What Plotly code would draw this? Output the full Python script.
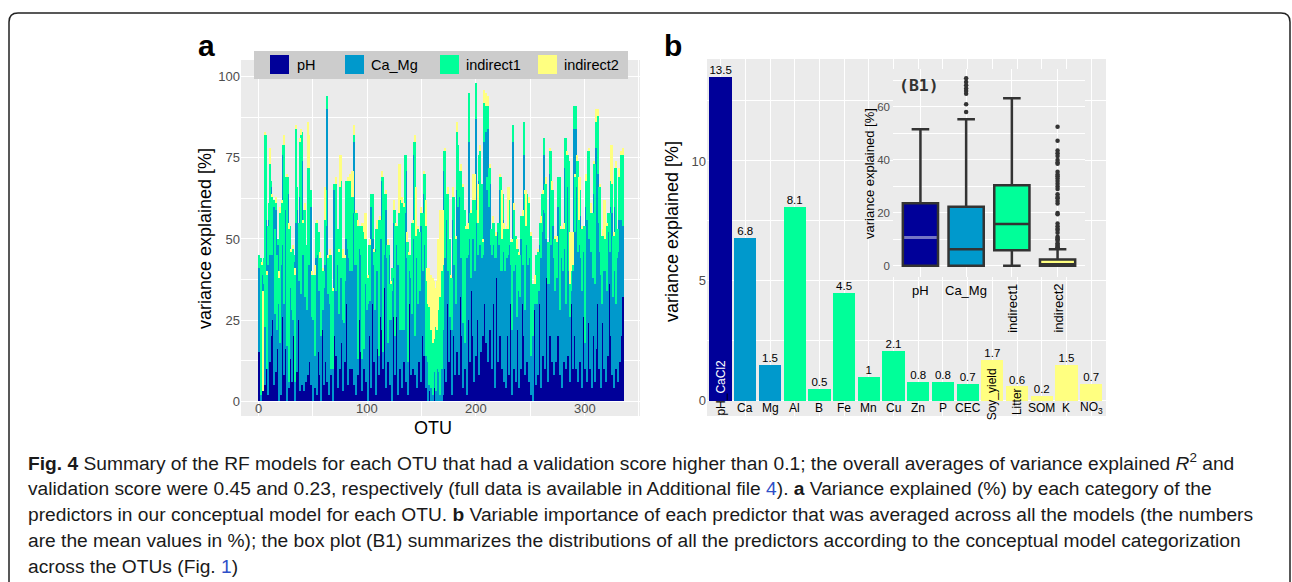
import plotly.graph_objects as go

W, H = 1292, 582


def px(x):
    return x / W


def py(y):
    return 1 - y / H


# ---- panel a: variance explained per OTU, by predictor category ----
ph = [
    15, 0, 25, 3, 8, 5, 26, 10, 2, 34, 12, 20, 25, 5, 27, 9, 16, 38, 0, 13,
    2, 38, 26, 8, 16, 0, 24, 4, 13, 21, 6, 20, 33, 0, 20, 9, 25, 3, 13, 5,
    15, 3, 28, 6, 18, 8, 12, 5, 22, 0, 30, 4, 26, 2, 15, 32, 8, 0, 22, 5,
    12, 26, 6, 30, 2, 18, 8, 25, 0, 20, 14, 32, 4, 24, 10, 18, 26, 3, 20, 12,
    30, 5, 26, 10, 28, 10, 18, 5, 22, 2, 30, 8, 25, 15, 3, 28, 10, 20, 6, 24,
    0, 20, 26, 4, 30, 12, 20, 2, 30, 16, 8, 26, 30, 22, 10, 35, 4, 28, 12, 30,
    5, 22, 0, 26, 30, 8, 26, 2, 20, 10, 30, 4, 20, 12, 28, 6, 24, 2, 30, 8,
    22, 10, 26, 8, 20, 4, 25, 12, 30, 6, 20, 14, 28, 4, 12, 0, 3, 18, 0, 2,
    0, 4, 0, 8, 0, 5, 0, 14, 0, 2, 10, 24, 6, 30, 12, 22, 30, 2, 20, 32,
    8, 26, 15, 30, 8, 32, 20, 4, 30, 10, 36, 2, 25, 30, 12, 34, 20, 6, 30, 14,
    40, 25, 8, 36, 15, 38, 20, 30, 18, 35, 12, 40, 22, 38, 10, 40, 30, 4, 38, 12,
    36, 20, 30, 10, 36, 6, 28, 4, 34, 20, 8, 30, 2, 25, 10, 30, 6, 22, 30, 4,
    26, 10, 30, 20, 8, 28, 12, 32, 6, 24, 2, 20, 0, 28, 5, 26, 8, 30, 38, 4,
    32, 14, 36, 10, 38, 6, 30, 20, 36, 12, 34, 8, 28, 12, 34, 20, 8, 36, 4, 30,
    12, 32, 10, 36, 14, 30, 6, 30, 10, 20, 32, 10, 36, 6, 28, 12, 34, 4, 26, 10,
    30, 6, 24, 38, 10, 26, 4, 32, 20, 6, 16, 30, 10, 26, 4, 24, 30, 10, 28, 6,
    30, 14, 36, 20, 8, 28, 4, 30, 10, 34, 6, 26, 12, 20, 32,
]
ca_mg = [
    26, 2, 14, 0, 28, 18, 30, 0, 40, 22, 33, 46, 20, 55, 0, 50, 6, 10, 30, 5,
    40, 10, 50, 22, 43, 17, 40, 2, 30, 14, 22, 5, 10, 6, 35, 50, 12, 60, 20, 69,
    30, 42, 4, 36, 10, 40, 30, 55, 4, 25, 2, 10, 18, 48, 30, 2, 28, 20, 6, 30,
    30, 28, 84, 3, 35, 12, 2, 6, 10, 45, 20, 10, 40, 3, 30, 20, 12, 22, 4, 25,
    20, 42, 18, 30, 22, 30, 40, 75, 20, 40, 12, 5, 22, 30, 10, 20, 6, 25, 30, 4,
    30, 15, 5, 56, 20, 30, 8, 45, 10, 35, 6, 25, 20, 46, 5, 10, 55, 16, 6, 15,
    20, 3, 34, 12, 25, 12, 22, 40, 30, 12, 25, 18, 35, 10, 30, 65, 20, 10, 10, 30,
    5, 40, 50, 12, 25, 40, 5, 30, 4, 48, 20, 50, 20, 10, 5, 12, 2, 6, 4, 8,
    2, 5, 3, 6, 10, 4, 2, 8, 10, 20, 61, 20, 50, 10, 32, 4, 5, 20, 36, 10,
    35, 4, 50, 30, 55, 12, 40, 20, 22, 8, 10, 42, 20, 50, 38, 4, 30, 55, 10, 73,
    15, 20, 60, 12, 45, 6, 25, 50, 65, 30, 72, 20, 45, 10, 35, 8, 20, 40, 6, 40,
    12, 45, 10, 30, 20, 40, 12, 46, 10, 25, 40, 12, 20, 55, 30, 15, 36, 4, 12, 30,
    6, 40, 12, 56, 20, 20, 40, 10, 45, 20, 12, 4, 20, 2, 30, 4, 30, 4, 10, 40,
    20, 45, 40, 48, 12, 30, 6, 50, 12, 45, 20, 36, 6, 30, 4, 40, 20, 12, 40, 10,
    35, 40, 20, 30, 55, 10, 20, 4, 30, 64, 20, 74, 30, 40, 20, 45, 10, 30, 20, 8,
    30, 50, 44, 12, 40, 20, 46, 6, 44, 30, 62, 40, 45, 20, 35, 6, 15, 30, 12, 40,
    4, 38, 10, 40, 50, 4, 36, 30, 20, 10, 40, 30, 50, 36, 22,
]
indirect1 = [
    4, 42, 3, 0, 8, 59, 26, 29, 12, 5, 28, 2, 18, 2, 26, 2, 23, 2, 8, 40,
    14, 13, 3, 49, 10, 52, 5, 47, 11, 11, 18, 22, 2, 33, 29, 7, 18, 17, 49, 9,
    10, 14, 27, 6, 20, 24, 30, 5, 13, 14, 7, 25, 11, 5, 7, 18, 8, 24, 12, 5,
    14, 11, 4, 11, 7, 15, 35, 3, 24, 2, 33, 11, 9, 19, 26, 30, 8, 19, 20, 7,
    18, 21, 24, 28, 18, 23, 5, 2, 16, 16, 16, 41, 7, 9, 41, 4, 36, 5, 14, 10,
    8, 13, 17, 4, 14, 4, 18, 6, 13, 5, 42, 5, 6, 1, 54, 19, 5, 4, 30, 3,
    11, 11, 7, 3, 4, 39, 6, 12, 8, 40, 6, 39, 5, 38, 18, 5, 5, 37, 5, 7,
    28, 5, 4, 60, 6, 9, 23, 10, 18, 4, 18, 6, 22, 40, 20, 18, 24, 14, 18, 12,
    16, 10, 20, 8, 18, 26, 30, 26, 30, 20, 6, 33, 8, 24, 6, 24, 3, 16, 7, 21,
    7, 20, 18, 19, 8, 27, 6, 42, 7, 41, 7, 9, 8, 15, 8, 20, 12, 8, 22, 11,
    4, 10, 8, 29, 7, 23, 4, 12, 8, 4, 7, 12, 5, 5, 8, 7, 5, 7, 7, 3,
    7, 4, 29, 10, 8, 7, 13, 3, 9, 8, 14, 7, 27, 5, 19, 6, 9, 21, 5, 11,
    13, 7, 15, 10, 36, 6, 12, 19, 10, 7, 37, 12, 16, 6, 10, 9, 8, 12, 7, 11,
    12, 5, 5, 9, 17, 13, 13, 7, 29, 8, 11, 6, 16, 7, 11, 9, 41, 5, 9, 13,
    6, 9, 51, 10, 7, 34, 10, 6, 2, 7, 17, 7, 8, 28, 8, 8, 9, 19, 8, 36,
    8, 12, 9, 27, 8, 12, 8, 20, 9, 37, 8, 18, 11, 20, 12, 21, 6, 12, 10, 8,
    20, 6, 12, 8, 9, 19, 11, 12, 42, 9, 7, 13, 7, 20, 22,
]
indirect2 = [
    0, 0, 1, 31, 0, 1, 0, 1, 0, 0, 5, 0, 1, 0, 0, 2, 0, 0, 2, 2,
    0, 1, 0, 3, 0, 1, 0, 2, 0, 1, 0, 1, 0, 2, 1, 0, 0, 1, 2, 0,
    1, 0, 2, 0, 0, 14, 10, 0, 1, 0, 0, 3, 0, 1, 0, 0, 2, 0, 1, 0,
    10, 0, 0, 1, 0, 2, 0, 0, 1, 0, 2, 0, 0, 1, 10, 8, 0, 3, 0, 1,
    0, 1, 0, 2, 0, 8, 8, 3, 0, 1, 0, 2, 0, 0, 1, 0, 3, 8, 8, 0,
    1, 0, 2, 0, 0, 1, 0, 0, 3, 0, 0, 1, 0, 2, 0, 0, 1, 0, 2, 0,
    0, 1, 0, 0, 3, 0, 1, 0, 15, 11, 0, 2, 0, 1, 0, 0, 3, 0, 1, 0,
    0, 1, 0, 2, 15, 0, 1, 0, 0, 2, 0, 1, 0, 8, 4, 11, 12, 1, 17, 11,
    20, 18, 12, 15, 22, 15, 27, 11, 19, 17, 0, 1, 0, 2, 0, 0, 1, 0, 3, 0,
    0, 1, 3, 0, 0, 2, 0, 1, 0, 0, 1, 0, 2, 0, 0, 1, 8, 0, 8, 0,
    0, 12, 0, 2, 0, 0, 1, 4, 4, 0, 3, 0, 1, 0, 0, 2, 0, 0, 1, 0,
    0, 1, 0, 15, 0, 2, 0, 0, 1, 13, 4, 0, 1, 0, 2, 0, 0, 3, 0, 1,
    0, 0, 2, 0, 1, 11, 0, 0, 2, 0, 1, 0, 0, 3, 0, 0, 1, 0, 0, 2,
    0, 1, 0, 0, 2, 0, 0, 1, 0, 3, 0, 0, 1, 0, 2, 0, 0, 1, 0, 0,
    2, 0, 0, 1, 0, 0, 16, 12, 10, 0, 1, 0, 2, 0, 13, 4, 0, 1, 0, 0,
    2, 0, 0, 1, 0, 3, 0, 0, 1, 0, 4, 2, 0, 1, 0, 0, 2, 10, 12, 0,
    1, 0, 0, 11, 12, 0, 1, 0, 2, 0, 0, 3, 0, 1, 2,
]
otu = list(range(1, len(ph) + 1))
assert len(ca_mg) == len(indirect1) == len(indirect2) == len(otu)
otu_ticks = [0, 100, 200, 300]

group_names = ["pH", "Ca_Mg", "indirect1", "indirect2"]
group_colors = ["#000099", "#0099CC", "#00FF99", "#FFFF80"]

# ---- panel b: mean variable importance (%) ----
predictors = ["pH_CaCl2", "Ca", "Mg", "Al", "B", "Fe", "Mn", "Cu", "Zn", "P",
              "CEC", "Soy_yield", "Litter", "SOM", "K", "NO<sub>3</sub>"]
importance = [13.5, 6.8, 1.5, 8.1, 0.5, 4.5, 1, 2.1, 0.8, 0.8, 0.7, 1.7, 0.6, 0.2, 1.5, 0.7]
predictor_group = [0, 1, 1, 2, 2, 2, 2, 2, 2, 2, 2, 3, 3, 3, 3, 3]

# ---- inset B1: box plot summary per category ----
box_low = [0, 0, 0, 0]
box_q1 = [0, 0, 5.9, 0]
box_median = [10.7, 6.3, 15.8, 0.6]
box_q3 = [23.6, 22.3, 30.4, 2.4]
box_high = [51.6, 55.3, 63.3, 6.3]
camg_outliers = [58.1, 61.0, 65.0, 66.0, 66.9, 68.2, 69.4, 70.8]
ind2_outliers = [52.5, 47.2, 43.5, 42.5, 41.5, 40.0, 39.0, 38.5, 35.5, 34.5, 33.8,
                 33.0, 32.0, 31.0, 30.0, 29.0, 27.0, 26.0, 25.5, 24.5, 23.5, 20.0,
                 19.5, 16.0, 15.0, 14.0, 13.5, 12.5, 11.0, 10.5, 10.0, 9.5, 8.5,
                 8.0, 7.5, 7.0, 6.7]
box_width = 0.77

FONT = "Liberation Sans, Arial, sans-serif"
GRAY_TXT = "#4D4D4D"

fig = go.Figure()

# stacked bars, panel a
for name, color, vals in zip(group_names, group_colors, [ph, ca_mg, indirect1, indirect2]):
    fig.add_trace(go.Bar(x=otu, y=vals, name=name, width=1, marker_color=color,
                         marker_line_width=0, xaxis="x", yaxis="y", showlegend=False))

# panel b bars + value labels
pos_b = list(range(1, len(predictors) + 1))
fig.add_trace(go.Bar(x=pos_b, y=importance, width=0.9,
                     marker_color=[group_colors[g] for g in predictor_group],
                     marker_line_width=0, xaxis="x2", yaxis="y2", showlegend=False))
fig.add_trace(go.Scatter(x=pos_b, y=importance, mode="text", text=[str(v) for v in importance],
                         textposition="top center", textfont=dict(size=11.5, color="black"),
                         xaxis="x2", yaxis="y2", showlegend=False, cliponaxis=False))

# inset box plots
for k in range(4):
    fig.add_trace(go.Box(x=[k + 1], q1=[box_q1[k]], median=[box_median[k]], q3=[box_q3[k]],
                         lowerfence=[box_low[k]], upperfence=[box_high[k]],
                         orientation="v", width=box_width, fillcolor=group_colors[k],
                         line=dict(color="#333333", width=2.5), boxpoints=False,
                         xaxis="x3", yaxis="y3", showlegend=False))
# lighter median line for pH
fig.add_trace(go.Scatter(x=[1 - box_width / 2 + 0.03, 1 + box_width / 2 - 0.03],
                         y=[box_median[0], box_median[0]], mode="lines",
                         line=dict(color="#7474C4", width=3), xaxis="x3", yaxis="y3",
                         showlegend=False))
for k, pts in [(2, camg_outliers), (4, ind2_outliers)]:
    fig.add_trace(go.Scatter(x=[k] * len(pts), y=pts, mode="markers",
                             marker=dict(size=4.5, color="#333333"),
                             xaxis="x3", yaxis="y3", showlegend=False))

grid = dict(showgrid=True, gridcolor="white", gridwidth=1.3, zeroline=False,
            showline=False, ticks="")
minor_grid = dict(showgrid=True, gridcolor="white", gridwidth=0.6)

layout = dict(
    width=W, height=H, margin=dict(l=0, r=0, t=0, b=0),
    paper_bgcolor="white", plot_bgcolor="#EBEBEB",
    barmode="stack", font=dict(family=FONT, color="black"),
    xaxis=dict(domain=[px(241), px(640)], range=[-16, 351], tickmode="array",
               tickvals=otu_ticks, showticklabels=False,
               minor=dict(dtick=50, **minor_grid), anchor="y", **grid),
    yaxis=dict(domain=[py(416), py(60)], range=[-4.6, 105.2], tick0=0, dtick=25,
               tickfont=dict(size=13, color=GRAY_TXT),
               minor=dict(dtick=12.5, **minor_grid), anchor="x", **grid),
    xaxis2=dict(domain=[px(707), px(1106)], range=[0.45, 16.6], tickmode="array",
                tickvals=pos_b, showticklabels=False, anchor="y2", **grid),
    yaxis2=dict(domain=[py(416), py(59)], range=[-0.63, 14.25], tick0=0, dtick=5,
                tickfont=dict(size=13, color=GRAY_TXT),
                minor=dict(dtick=2.5, **minor_grid), anchor="x2", **grid),
    xaxis3=dict(domain=[px(893), px(1085)], range=[0.4, 4.6], tickmode="array",
                tickvals=[1, 2, 3, 4], showticklabels=False, anchor="y3", **grid),
    yaxis3=dict(domain=[py(277), py(69)], range=[-4.2, 74.3], tick0=0, dtick=20,
                tickfont=dict(size=11.5, color=GRAY_TXT), ticklabelstandoff=2,
                minor=dict(dtick=10, **minor_grid), anchor="x3", **grid),
)
fig.update_layout(**layout)

shapes = [
    # inset panel background
    dict(type="rect", xref="x3 domain", yref="y3 domain", x0=0, x1=1, y0=0, y1=1,
         fillcolor="#CCCCCC", line_width=0, layer="below"),
    # legend box for panel a
    dict(type="rect", xref="paper", yref="paper", x0=px(254), x1=px(628), y0=py(79), y1=py(51),
         fillcolor="#CCCCCC", line_width=0, layer="above"),
]
r = 9
bx0, bx1, by0, by1 = 9, 1290, 13, 600
border = (f"M {px(bx0)},{py(by1)} L {px(bx0)},{py(by0 + r)} "
          f"Q {px(bx0)},{py(by0)} {px(bx0 + r)},{py(by0)} "
          f"L {px(bx1 - r)},{py(by0)} Q {px(bx1)},{py(by0)} {px(bx1)},{py(by0 + r)} "
          f"L {px(bx1)},{py(by1)}")
shapes.append(dict(type="path", xref="paper", yref="paper", path=border,
                   line=dict(color="#222222", width=1.5)))

legend_swatch_x = [270, 345, 440, 538]
legend_text_x = [295, 369, 464, 562]
for sx, color in zip(legend_swatch_x, group_colors):
    shapes.append(dict(type="rect", xref="paper", yref="paper", x0=px(sx), x1=px(sx + 19),
                       y0=py(74), y1=py(55), fillcolor=color, line_width=0, layer="above"))
fig.update_layout(shapes=shapes)

ann = []


def note(text, x, y, size, color="black", angle=0, xanchor="center", xref="paper",
         yanchor="middle", family=FONT):
    ann.append(dict(text=text, x=x, y=y, xref=xref, yref="paper", showarrow=False,
                    textangle=angle, xanchor=xanchor, yanchor=yanchor,
                    font=dict(size=size, color=color, family=family)))


for tx, name in zip(legend_text_x, group_names):
    note(name, px(tx), py(65), 14.5, xanchor="left")

# panel a x tick labels sit inside the grey panel
for t in otu_ticks:
    note(str(t), t, py(409), 13, color=GRAY_TXT, xref="x")

note("<b>a</b>", px(206), py(46), 30)
note("<b>b</b>", px(673), py(46), 30)
note("variance explained [%]", px(205), py(239), 18, angle=-90)
note("variance explained [%]", px(672), py(232), 18, angle=-90)
note("OTU", px(433), py(428), 18)

# panel b category labels (long names run vertically)
vertical_b = {"pH_CaCl2": (388, "pH_<span style='color:white'>CaCl2</span>"),
              "Soy_yield": (394, "Soy_yield"), "Litter": (402, "Litter")}
for p, name in zip(pos_b, predictors):
    if name in vertical_b:
        yc, label = vertical_b[name]
        note(label, p, py(yc), 12, angle=-90, xref="x2")
    else:
        note(name, p, py(408), 12, xref="x2")

# inset labels
inset_labels = ["pH", "Ca_Mg", "indirect1", "indirect2"]
for k, name in enumerate(inset_labels):
    if k < 2:
        note(name, k + 1, py(290), 13, xref="x3")
    else:
        note(name, k + 1, py(308), 13, angle=-90, xref="x3")
note("variance explained [%]", px(869), py(174), 13, angle=-90)
note("<b>(B1)</b>", px(897), py(85), 16.5, color="#333333", xanchor="left",
     family="DejaVu Sans Mono, monospace")

# caption
link = "#2F4FC8"
caption = [
    "<b>Fig. 4</b> Summary of the RF models for each OTU that had a validation score higher than 0.1; "
    "the overall averages of variance explained <i>R</i><sup>2</sup> and",
    "validation score were 0.45 and 0.23, respectively (full data is available in Additional file "
    f"<span style='color:{link}'>4</span>). <b>a</b> Variance explained (%) by each category of the",
    "predictors in our conceptual model for each OTU. <b>b</b> Variable importance of each predictor "
    "that was averaged across all the models (the numbers",
    "are the mean values in %); the box plot (B1) summarizes the distributions of all the predictors "
    "according to the conceptual model categorization",
    f"across the OTUs (Fig. <span style='color:{link}'>1</span>)",
]
for i, line in enumerate(caption):
    note(line, px(26), py(462 + 26 * i), 19.2, color="#1A1A1A", xanchor="left")

fig.update_layout(annotations=ann)
fig.write_html("out.html", config={"displayModeBar": False},
               post_script="document.body.style.margin = '0px';")
